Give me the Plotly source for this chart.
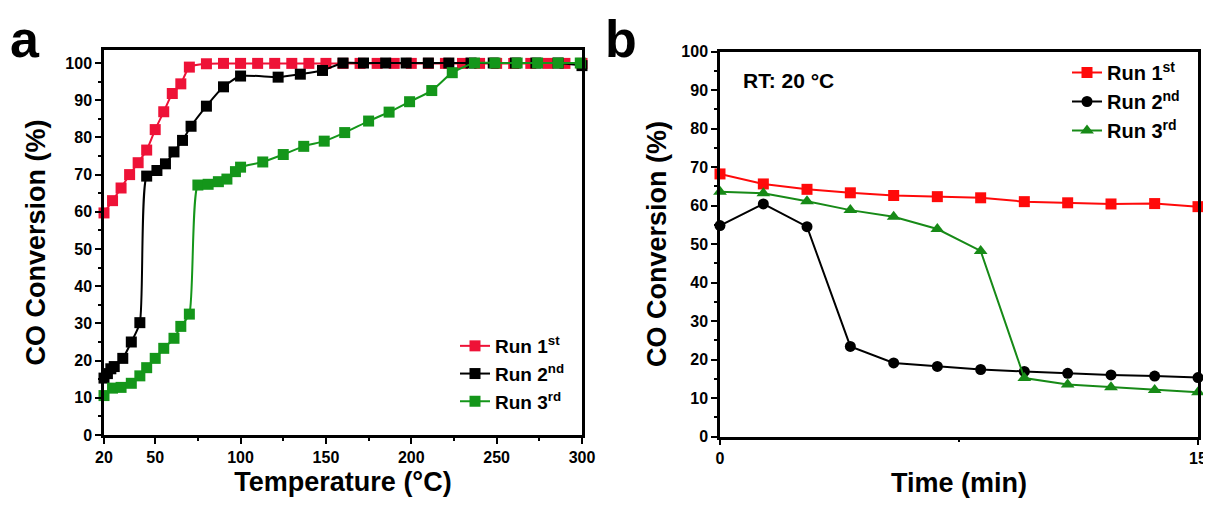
import plotly.graph_objects as go

# ---------------- Panel a data ----------------
temp_run1 = [20, 25, 30, 35, 40, 45, 50, 55, 60, 65, 70, 80, 90, 100, 110, 120, 130, 140, 150,
             160, 170, 180, 190, 200, 210, 220, 230, 240, 250, 260, 270, 280, 290, 300]
conv_run1 = [59.7, 63.0, 66.4, 70.0, 73.2, 76.6, 82.1, 86.9, 91.8, 94.4, 98.9, 99.8, 99.9, 99.9, 99.9,
             99.9, 99.9, 99.9, 99.9, 99.9, 99.9, 99.9, 99.9, 99.9, 99.9, 99.9, 99.9, 99.9, 99.9, 99.9,
             99.9, 99.9, 99.9, 99.9]

temp_run2 = [20, 22, 24, 26, 31, 36, 41, 45, 51, 56, 61, 66, 71, 80, 90, 100, 122, 135, 148,
             160, 172, 185, 197, 210, 222, 235, 248, 261, 273, 286, 300]
conv_run2 = [15.3, 16.5, 17.8, 18.4, 20.6, 25.0, 30.2, 69.6, 71.1, 72.9, 76.1, 79.2, 83.0, 88.4,
             93.6, 96.5, 96.2, 97.0, 98.0, 100.0, 100.0, 100.0, 100.0, 100.0, 100.0, 100.0, 100.0,
             100.0, 100.0, 100.0, 99.3]

temp_run3 = [20, 25, 30, 36, 41, 45, 50, 55, 61, 65, 70, 75, 81, 87, 92, 97, 100, 113, 125, 137,
             149, 161, 175, 187, 199, 212, 224, 237, 249, 262, 274, 286, 299]
conv_run3 = [10.6, 12.6, 12.8, 13.9, 15.9, 18.1, 20.6, 23.3, 26.0, 29.2, 32.5, 67.2, 67.4, 68.1,
             68.8, 70.8, 72.0, 73.4, 75.4, 77.6, 79.0, 81.3, 84.4, 86.8, 89.6, 92.6, 97.4, 100.0,
             100.0, 100.0, 100.0, 100.0, 100.0]

temp_ticks = [20, 50, 100, 150, 200, 250, 300]
temp_minor = [75, 125, 175, 225, 275]

# ---------------- Panel b data ----------------
time_min = [0, 1.36, 2.73, 4.09, 5.45, 6.82, 8.18, 9.55, 10.91, 12.27, 13.64, 15.0]
rt_run1 = [68.2, 65.6, 64.2, 63.3, 62.6, 62.3, 62.0, 61.0, 60.7, 60.4, 60.5, 59.7]
rt_run2 = [54.8, 60.4, 54.5, 23.4, 19.1, 18.2, 17.4, 16.9, 16.4, 16.0, 15.7, 15.3]
rt_run3 = [63.6, 63.2, 61.1, 58.8, 57.1, 53.9, 48.2, 15.2, 13.5, 12.8, 12.1, 11.5]

time_ticks = [0, 15]
time_minor = [7.5]
y_ticks = list(range(0, 101, 10))
y_minor = list(range(5, 100, 10))

RED_A = "#EE1237"
GREEN_A = "#14961A"
RED_B = "#FF0A0A"
GREEN_B = "#178A17"
FONT = "Liberation Sans"

# The page body has an 8px margin, so the figure is drawn offset by 8px;
# keep the page from overflowing the window.
OFF = 8
W, H = 1211 - OFF, 511 - 2 * OFF
def px_x(p):
    return (p - OFF) / W
def px_y(p):
    return 1 - (p - OFF) / H

fig = go.Figure()

spl = dict(shape="spline", smoothing=0.6)
fig.add_trace(go.Scatter(x=temp_run1, y=conv_run1, mode="lines+markers", name="Run 1<sup>st</sup>",
                         line=dict(color=RED_A, width=2, **spl),
                         marker=dict(symbol="square", size=11, color=RED_A),
                         xaxis="x", yaxis="y", legend="legend", cliponaxis=False))
fig.add_trace(go.Scatter(x=temp_run2, y=conv_run2, mode="lines+markers", name="Run 2<sup>nd</sup>",
                         line=dict(color="black", width=2, **spl),
                         marker=dict(symbol="square", size=11, color="black"),
                         xaxis="x", yaxis="y", legend="legend", cliponaxis=False))
fig.add_trace(go.Scatter(x=temp_run3, y=conv_run3, mode="lines+markers", name="Run 3<sup>rd</sup>",
                         line=dict(color=GREEN_A, width=2, **spl),
                         marker=dict(symbol="square", size=11, color=GREEN_A),
                         xaxis="x", yaxis="y", legend="legend", cliponaxis=False))

fig.add_trace(go.Scatter(x=time_min, y=rt_run1, mode="lines+markers", name="Run 1<sup>st</sup>",
                         line=dict(color=RED_B, width=2),
                         marker=dict(symbol="square", size=11, color=RED_B),
                         xaxis="x2", yaxis="y2", legend="legend2", cliponaxis=False))
fig.add_trace(go.Scatter(x=time_min, y=rt_run2, mode="lines+markers", name="Run 2<sup>nd</sup>",
                         line=dict(color="black", width=2),
                         marker=dict(symbol="circle", size=11, color="black"),
                         xaxis="x2", yaxis="y2", legend="legend2", cliponaxis=False))
fig.add_trace(go.Scatter(x=time_min, y=rt_run3, mode="lines+markers", name="Run 3<sup>rd</sup>",
                         line=dict(color=GREEN_B, width=2),
                         marker=dict(symbol="triangle-up", size=12, color=GREEN_B),
                         xaxis="x2", yaxis="y2", legend="legend2", cliponaxis=False))

tickfont = dict(family=FONT, size=16, color="black", weight="bold")
titlefont = dict(family=FONT, size=27, color="black", weight="bold")

common_axis = dict(showline=True, linecolor="black", linewidth=2.5, mirror=True,
                   ticks="outside", ticklen=6, tickwidth=2, tickcolor="black",
                   showgrid=False, zeroline=False, tickfont=tickfont, automargin=False)

minor_y = dict(tickvals=y_minor, ticks="outside", ticklen=3, tickwidth=2, tickcolor="black", showgrid=False)

fig.update_layout(
    width=W, height=H, margin=dict(l=0, r=0, t=0, b=0, autoexpand=False),
    paper_bgcolor="white", plot_bgcolor="white",
    xaxis=dict(domain=[px_x(104), px_x(582)], range=[20, 300], anchor="y",
               tickmode="array", tickvals=temp_ticks,
               minor=dict(tickvals=temp_minor, ticks="outside", ticklen=3, tickwidth=2,
                          tickcolor="black", showgrid=False),
               title=dict(text="Temperature (°C)", font=titlefont, standoff=8),
               **common_axis),
    yaxis=dict(domain=[px_y(435), px_y(50)], range=[0, 103.5], anchor="x",
               tickmode="array", tickvals=y_ticks, minor=minor_y,
               title=dict(text="CO Conversion (%)", font=titlefont, standoff=12),
               **common_axis),
    xaxis2=dict(domain=[px_x(720), px_x(1198)], range=[0, 15], anchor="y2",
                tickmode="array", tickvals=time_ticks,
                minor=dict(tickvals=time_minor, ticks="outside", ticklen=3, tickwidth=2,
                           tickcolor="black", showgrid=False),
                title=dict(text="Time (min)", font=titlefont, standoff=7),
                **common_axis),
    yaxis2=dict(domain=[px_y(436.5), px_y(51.5)], range=[0, 100], anchor="x2",
                tickmode="array", tickvals=y_ticks, minor=minor_y,
                title=dict(text="CO Conversion (%)", font=titlefont, standoff=7),
                **common_axis),
    legend=dict(x=px_x(455), y=px_y(327), xanchor="left", yanchor="top",
                font=dict(family=FONT, size=19, color="black", weight="bold"),
                bgcolor="rgba(0,0,0,0)", tracegroupgap=0),
    legend2=dict(x=px_x(1067), y=px_y(53), xanchor="left", yanchor="top",
                 font=dict(family=FONT, size=20, color="black", weight="bold"),
                 bgcolor="rgba(0,0,0,0)", tracegroupgap=0),
    annotations=[
        dict(text="a", x=px_x(8), y=px_y(8), xref="paper", yref="paper", xanchor="left", yanchor="top",
             showarrow=False, font=dict(family=FONT, size=52, color="black", weight="bold")),
        dict(text="b", x=px_x(603), y=px_y(8), xref="paper", yref="paper", xanchor="left", yanchor="top",
             showarrow=False, font=dict(family=FONT, size=52, color="black", weight="bold")),
        dict(text="RT: 20 °C", x=px_x(741), y=px_y(80), xref="paper", yref="paper", xanchor="left",
             yanchor="middle", showarrow=False,
             font=dict(family=FONT, size=21, color="black", weight="bold")),
    ],
)

fig.write_html("out.html")
